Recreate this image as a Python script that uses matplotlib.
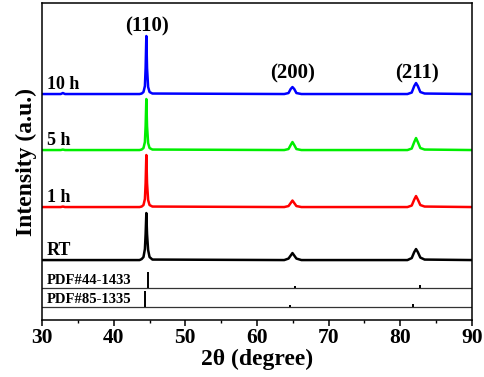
import numpy as np
import matplotlib
matplotlib.use("Agg")
import matplotlib.pyplot as plt
from matplotlib.ticker import MultipleLocator

plt.rcParams.update({"font.family": ["Liberation Serif", "DejaVu Serif"],
                     "font.weight": "bold", "mathtext.default": "regular"})

# 2theta sample points (deg) shared by all patterns
two_theta = [30, 32.6, 32.9, 33.2, 43.6, 43.9, 44.15, 44.35, 44.45, 44.55,
             44.65, 44.8, 45.0, 45.4, 63.8, 64.4, 64.7, 64.95, 65.2, 65.5,
             66.2, 81.0, 81.6, 81.95, 82.2, 82.45, 82.8, 83.4, 90]

# intensities above each baseline (a.u.)
int_rt = [0, 0, 0, 0, 0, 1, 3, 11, 26, 47, 26, 10, 3, 0.5, 0, 1.5, 4.5, 7, 4.5,
          1.5, 0, 0, 2, 8, 11, 8, 2.5, 0.5, 0]
int_1h = [0, 0, 0.5, 0, 0, 0.5, 2, 8, 24, 52, 24, 7, 2, 0.5, 0, 1, 4, 6.5, 4,
          1, 0, 0, 1.5, 7.5, 11, 7.5, 2, 0.5, 0]
int_5h = [0, 0, 0.5, 0, 0, 0.5, 2, 8, 24, 51, 24, 7, 2, 0.5, 0, 1, 5, 8, 5,
          1, 0, 0, 1.5, 8, 12, 8, 2, 0.5, 0]
int_10h = [0, 0, 1, 0, 0, 0.5, 2, 8, 26, 58, 26, 7, 2, 0.5, 0, 1, 5, 7, 5,
           1, 0, 0, 1.5, 8, 11, 8, 2, 0.5, 0]

samples = ["RT", "1 h", "5 h", "10 h"]
intensities = [int_rt, int_1h, int_5h, int_10h]
offsets = [60, 113, 170, 226]
colors = ["black", "#ff0000", "#00ee00", "#0000ff"]

# reference cards: stick positions and relative heights
cards = ["PDF#44-1433", "PDF#85-1335"]
card_pos = [[44.85, 65.3, 82.7], [44.4, 64.6, 81.8]]
card_int = [[16, 2, 3], [16, 2, 3]]
card_base = [32, 13]

peak_labels = ["(110)", "(200)", "(211)"]
peak_label_pos = [44.6, 65.0, 82.3]

fig = plt.figure(figsize=(4.84, 3.77), dpi=100)
ax = fig.add_axes([0.087, 0.151, 0.888, 0.841])

for name, y, off, c in zip(samples, intensities, offsets, colors):
    ax.plot(two_theta, np.array(y) + off, color=c, lw=1.8)
    ax.text(30.7, off + 10, name, fontsize=13, fontweight="bold", va="center")

for name, pos, h, b in zip(cards, card_pos, card_int, card_base):
    ax.axhline(b, color="#333333", lw=0.9)
    ax.vlines(pos, b, b + np.array(h), color="black", lw=1.4)
    ax.text(30.7, b + 8, name, fontsize=10.5, fontweight="bold", va="center")

ax.text(peak_label_pos[0], 294, peak_labels[0], ha="center", va="center",
        fontsize=15, fontweight="bold")
for lab, p in zip(peak_labels[1:], peak_label_pos[1:]):
    ax.text(p, 247, lab, ha="center", va="center", fontsize=15, fontweight="bold")

ax.set_xlim(30, 90)
ax.set_ylim(0, 317)
ax.xaxis.set_major_locator(MultipleLocator(10))
ax.xaxis.set_minor_locator(MultipleLocator(5))
ax.tick_params(axis="x", which="major", direction="out", length=4, width=1.1,
               labelsize=15.5, pad=2)
ax.tick_params(axis="x", which="minor", direction="out", length=2.5, width=1)
ax.set_yticks([])
for lab in ax.get_xticklabels():
    lab.set_fontweight("bold")
for s in ax.spines.values():
    s.set_linewidth(1.1)

ax.set_xlabel("2θ (degree)", fontsize=17, fontweight="bold", labelpad=0)
ax.set_ylabel("Intensity (a.u.)", fontsize=17, fontweight="bold", labelpad=4)

fig.savefig("out.png", dpi=100)
